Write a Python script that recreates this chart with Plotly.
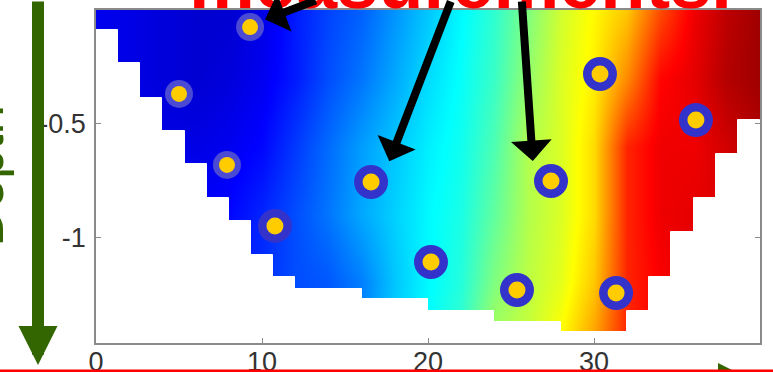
import plotly.graph_objects as go

# ---------------- data ----------------
# smoothed field, normalised 0..1 (jet colour map), rows = depths, cols = distances
dist_grid = [0, 2, 4, 6, 8, 10, 12, 14, 16, 18, 20, 22, 24, 26, 28, 30, 32, 34, 36, 38, 40]
depth_grid = [0, -0.3, -0.6, -0.9, -1.2, -1.45]
field_d000 = [0.11, 0.10, 0.09, 0.08, 0.08, 0.10, 0.15, 0.19, 0.22, 0.27, 0.32, 0.37, 0.42, 0.50, 0.58, 0.63, 0.68, 0.80, 0.89, 0.94, 0.97]
field_d030 = [0.11, 0.10, 0.09, 0.08, 0.09, 0.11, 0.15, 0.20, 0.24, 0.29, 0.34, 0.38, 0.43, 0.52, 0.59, 0.64, 0.74, 0.87, 0.90, 0.95, 0.97]
field_d060 = [0.11, 0.11, 0.10, 0.10, 0.11, 0.13, 0.18, 0.23, 0.28, 0.32, 0.36, 0.39, 0.45, 0.55, 0.59, 0.66, 0.84, 0.89, 0.89, 0.92, 0.95]
field_d090 = [0.12, 0.12, 0.12, 0.12, 0.13, 0.16, 0.20, 0.24, 0.29, 0.33, 0.37, 0.40, 0.47, 0.55, 0.59, 0.66, 0.84, 0.89, 0.90, 0.91, 0.92]
field_d120 = [0.14, 0.14, 0.14, 0.14, 0.15, 0.17, 0.20, 0.21, 0.25, 0.32, 0.37, 0.41, 0.50, 0.56, 0.60, 0.68, 0.84, 0.88, 0.90, 0.91, 0.92]
field_d145 = [0.15, 0.15, 0.15, 0.15, 0.16, 0.18, 0.20, 0.22, 0.26, 0.33, 0.38, 0.43, 0.54, 0.57, 0.63, 0.72, 0.84, 0.88, 0.90, 0.91, 0.92]

# cross-section bed: depth of the bottom of each of the 30 grid columns (0..40)
n_cols = 30
bed_depth = [-0.088, -0.233, -0.387, -0.532, -0.677, -0.826, -0.927, -1.077, -1.174,
             -1.226, -1.226, -1.226, -1.270, -1.270, -1.270, -1.323, -1.323, -1.323,
             -1.371, -1.371, -1.371, -1.415, -1.415, -1.415, -1.323, -1.174, -0.976,
             -0.826, -0.633, -0.484]

# measurement points
faded_x = [9.28, 5.00, 7.89]
faded_y = [-0.075, -0.369, -0.681]
meas_x = [10.78, 16.57, 20.18, 25.36, 27.41, 30.36, 36.14, 31.33]
meas_y = [-0.949, -0.756, -1.108, -1.231, -0.752, -0.281, -0.484, -1.244]

x_ticks = [0, 10, 20, 30, 40]
y_ticks = [0, -0.5, -1]
y_ticktext = ["0", "-0.5", "-1"]

title_text = "measurements."
ylabel_text = "Depth"

# ---------------- figure ----------------
jet = [[0, "rgb(0,0,128)"], [0.125, "rgb(0,0,255)"], [0.375, "rgb(0,255,255)"],
       [0.625, "rgb(255,255,0)"], [0.875, "rgb(255,0,0)"], [1, "rgb(128,0,0)"]]

field = [field_d000, field_d030, field_d060, field_d090, field_d120, field_d145]

fig = go.Figure()
fig.add_trace(go.Heatmap(x=dist_grid, y=depth_grid, z=field, colorscale=jet,
                         zmin=0, zmax=1, zsmooth="best", showscale=False,
                         hoverinfo="skip"))

col_w = 40 / n_cols
col_x = [(i + 0.5) * col_w for i in range(n_cols)]
floor = -1.8
fig.add_trace(go.Bar(x=col_x, y=[floor - b for b in bed_depth], base=bed_depth,
                     width=col_w, marker=dict(color="white", line=dict(color="white", width=1)),
                     hoverinfo="skip", showlegend=False))

# faded (translucent-looking) points
fig.add_trace(go.Scatter(x=faded_x, y=faded_y, mode="markers",
                         marker=dict(size=28, color="rgb(74,74,212)", line=dict(width=0)),
                         hoverinfo="skip"))
fig.add_trace(go.Scatter(x=faded_x, y=faded_y, mode="markers",
                         marker=dict(size=16, color="#FFCC00", line=dict(width=0)),
                         hoverinfo="skip"))
# highlighted points
fig.add_trace(go.Scatter(x=meas_x, y=meas_y, mode="markers",
                         marker=dict(size=34, color="#3333CC", line=dict(width=0)),
                         hoverinfo="skip"))
fig.add_trace(go.Scatter(x=meas_x, y=meas_y, mode="markers",
                         marker=dict(size=17, color="#FFCC00", line=dict(width=0)),
                         hoverinfo="skip"))

W, H = 773, 372
L, R, T, B = 96, 13, 10, 29
pw, ph = W - L - R, H - T - B


def px_x(p):
    return (p - L) / pw


def px_y(p):
    return (H - B - p) / ph


axis_gray = "#8a8a8a"
tick_font = dict(family="Liberation Sans, Arial, sans-serif", size=27, color="#333333")

fig.update_xaxes(range=[0, 40], tickvals=x_ticks, ticks="inside", ticklen=5,
                 tickcolor=axis_gray, tickwidth=1.2, showline=True, linecolor=axis_gray,
                 linewidth=1.5, mirror=True, showgrid=False, zeroline=False,
                 tickfont=tick_font, ticklabelstandoff=-6, automargin=False)
fig.update_yaxes(range=[-ph / 227.5, 0], tickvals=y_ticks, ticktext=y_ticktext,
                 ticks="inside", ticklen=5, tickcolor=axis_gray, tickwidth=1.2,
                 showline=True, linecolor=axis_gray, linewidth=1.5, mirror="ticks",
                 showgrid=False, zeroline=False, tickfont=tick_font, ticklabelstandoff=3,
                 automargin=False)

annotations = [
    # partially visible title above the chart
    dict(text=title_text, xref="paper", yref="paper", x=px_x(460), y=px_y(26),
         xanchor="center", yanchor="bottom", showarrow=False,
         font=dict(family="Liberation Sans, Arial, sans-serif", size=74, color="#FF0000",
                   weight="bold")),
    # y label
    dict(text=ylabel_text, xref="paper", yref="paper", x=px_x(15), y=px_y(176),
         xanchor="right", yanchor="middle", textangle=-90, showarrow=False,
         font=dict(family="Liberation Sans, Arial, sans-serif", size=53, color="#336600")),
    # green depth arrow
    dict(text="", xref="paper", yref="paper", x=px_x(38), y=px_y(365), ax=0, ay=-390,
         showarrow=True, arrowhead=2, arrowwidth=12, arrowsize=0.65, arrowcolor="#336600"),
    # black arrows from the title to the points
    dict(text="", xref="x", yref="y", x=10.19, y=-0.042, ax=52, ay=-40,
         showarrow=True, arrowhead=1, arrowwidth=8, arrowsize=0.85, arrowcolor="black"),
    dict(text="", xref="x", yref="y", x=17.67, y=-0.665, ax=62, ay=-176,
         showarrow=True, arrowhead=1, arrowwidth=8, arrowsize=0.85, arrowcolor="black"),
    dict(text="", xref="x", yref="y", x=26.31, y=-0.664, ax=-11, ay=-176,
         showarrow=True, arrowhead=1, arrowwidth=8, arrowsize=0.85, arrowcolor="black"),
]

shapes = [
    # tip of a green arrow peeking in at the bottom right
    dict(type="path", xref="paper", yref="paper", layer="above",
         path=f"M {px_x(718)},{px_y(363)} L {px_x(758)},{px_y(383)} L {px_x(718)},{px_y(403)} Z",
         fillcolor="#336600", line=dict(width=0)),
    # red rule at the bottom edge
    dict(type="line", xref="paper", yref="paper", layer="above",
         x0=px_x(0), x1=px_x(W), y0=px_y(371), y1=px_y(371),
         line=dict(color="#FF0000", width=3)),
]

fig.update_layout(width=W, height=H, margin=dict(l=L, r=R, t=T, b=B, pad=0, autoexpand=False),
                  paper_bgcolor="white", plot_bgcolor="white", showlegend=False,
                  annotations=annotations, shapes=shapes, bargap=0)

fig.write_html("out.html")
